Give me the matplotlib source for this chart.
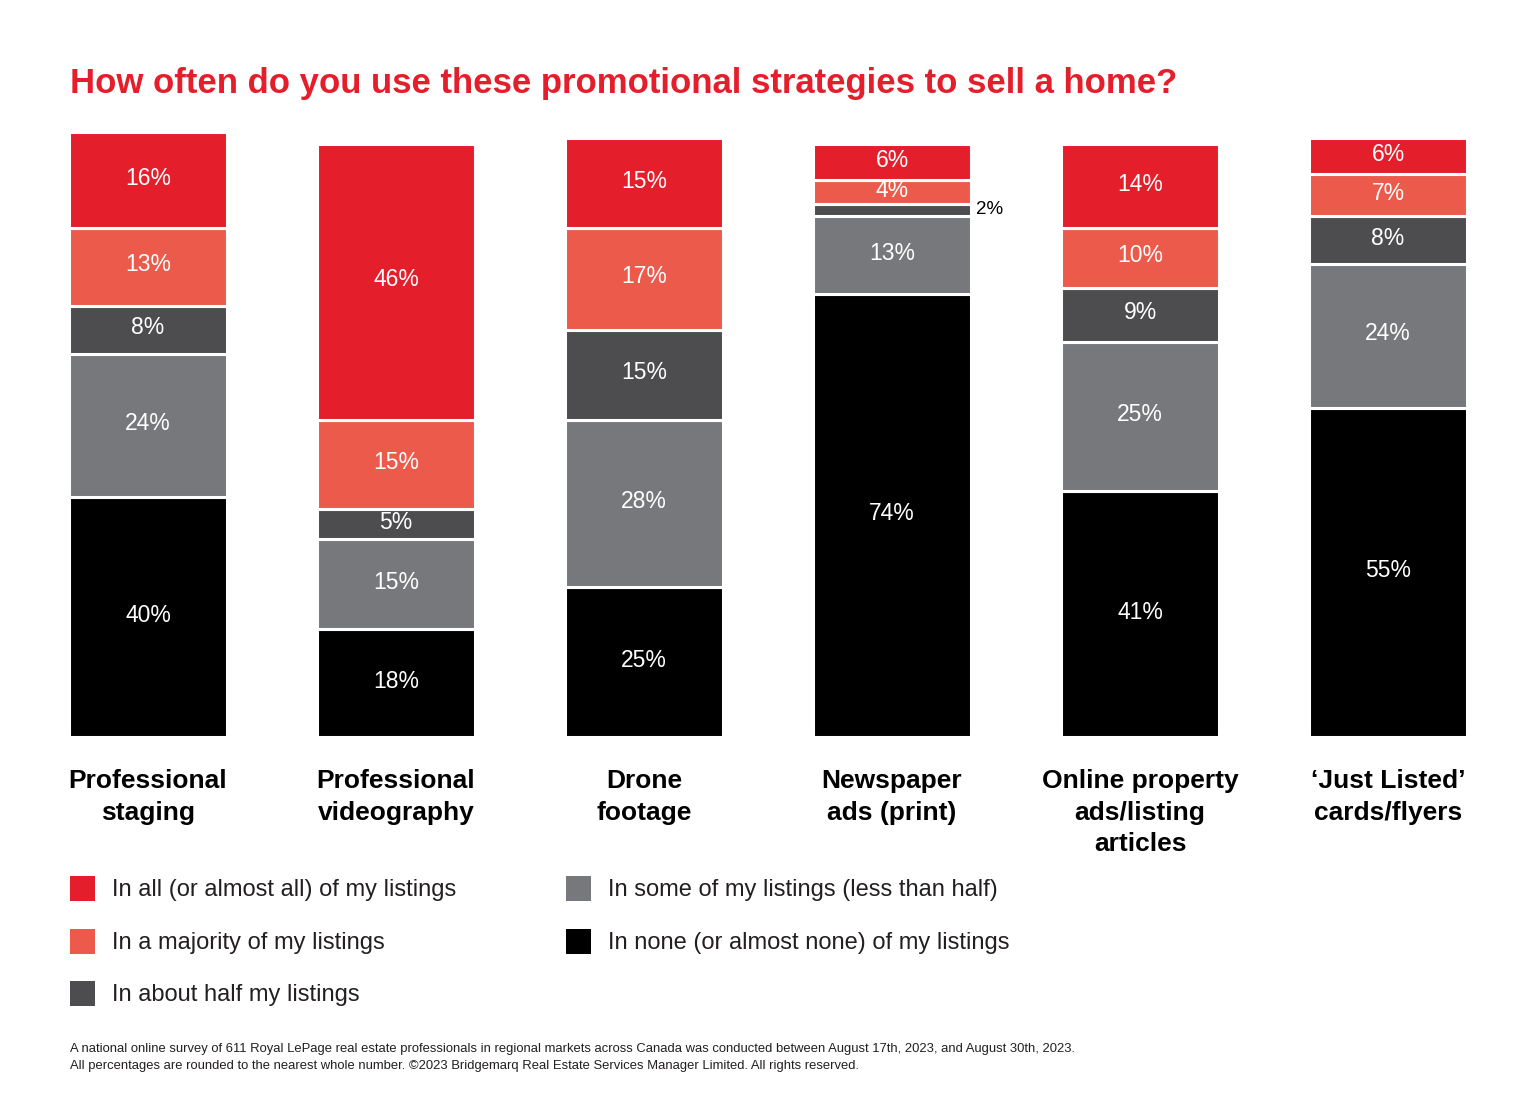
import matplotlib
matplotlib.use("Agg")
import matplotlib.pyplot as plt
from matplotlib.patches import Rectangle

categories = ["Professional\nstaging", "Professional\nvideography", "Drone\nfootage",
              "Newspaper\nads (print)", "Online property\nads/listing\narticles",
              "\u2018Just Listed\u2019\ncards/flyers"]
none_vals = [40, 18, 25, 74, 41, 55]
some_vals = [24, 15, 28, 13, 25, 24]
half_vals = [8, 5, 15, 2, 9, 8]
majority_vals = [13, 15, 17, 4, 10, 7]
all_vals = [16, 46, 15, 6, 14, 6]

series_names = ["In none (or almost none) of my listings",
                "In some of my listings (less than half)",
                "In about half my listings",
                "In a majority of my listings",
                "In all (or almost all) of my listings"]
series = [none_vals, some_vals, half_vals, majority_vals, all_vals]
colors = ["#000000", "#77787B", "#4D4D4F", "#EC5A4C", "#E41E2B"]

W, H = 1536, 1117
fig = plt.figure(figsize=(W / 100, H / 100), dpi=100)
fig.patch.set_facecolor("white")

FONT = ["Liberation Sans", "DejaVu Sans"]

# axes placement in pixels
left_px, right_px, bottom_px, top_px = 69, 1467, 737, 132
ax = fig.add_axes([left_px / W, 1 - bottom_px / H, (right_px - left_px) / W, (bottom_px - top_px) / H])
bw = 0.637
ax.set_xlim(-bw / 2, len(categories) - 1 + bw / 2)
ax.set_ylim(0, 101)
ax.axis("off")

x = list(range(len(categories)))
bottoms = [0] * len(categories)
for vals, col in zip(series, colors):
    ax.bar(x, vals, width=bw, bottom=bottoms, color=col, edgecolor="white", linewidth=2.2)
    for i, v in enumerate(vals):
        yc = bottoms[i] + v / 2
        if v >= 3:
            ax.text(i, yc + 0.3, f"{v}%", ha="center", va="center", color="white",
                    fontsize=16.5, family=FONT)
        else:
            ax.text(i + bw / 2 + 0.02, yc, f"{v}%", ha="left", va="center", color="black",
                    fontsize=13.5, family=FONT)
    bottoms = [b + v for b, v in zip(bottoms, vals)]

# category labels
for i, cat in enumerate(categories):
    xd = ax.transData.transform((i, 0))[0]
    fig.text(xd / W, 1 - 769 / H, cat, ha="center", va="top", fontsize=19,
             fontweight="bold", family=FONT, linespacing=1.4)

# title
fig.text(70 / W, 1 - 83 / H, "How often do you use these promotional strategies to sell a home?",
         ha="left", va="center", fontsize=25, fontweight="bold", color="#E41E2B", family=FONT)

# legend
legend_items = [
    (70, 888, 4), (70, 941, 3), (70, 993, 2),
    (566, 888, 1), (566, 941, 0),
]
for lx, ly, idx in legend_items:
    fig.patches.append(Rectangle((lx / W, 1 - (ly + 12.5) / H), 25 / W, 25 / H,
                                 transform=fig.transFigure, facecolor=colors[idx],
                                 edgecolor="none"))
    fig.text((lx + 42) / W, 1 - (ly + 2) / H, series_names[idx], ha="left", va="center",
             fontsize=17, color="#231F20", family=FONT)

# footnote
foot = ("A national online survey of 611 Royal LePage real estate professionals in regional markets across Canada was conducted between August 17th, 2023, and August 30th, 2023.\n"
        "All percentages are rounded to the nearest whole number. \u00a92023 Bridgemarq Real Estate Services Manager Limited. All rights reserved.")
fig.text(70 / W, 1 - 1043 / H, foot, ha="left", va="top", fontsize=9.35, color="#231F20",
         family=FONT, linespacing=1.5)

fig.savefig("out.png", dpi=100, facecolor="white")
